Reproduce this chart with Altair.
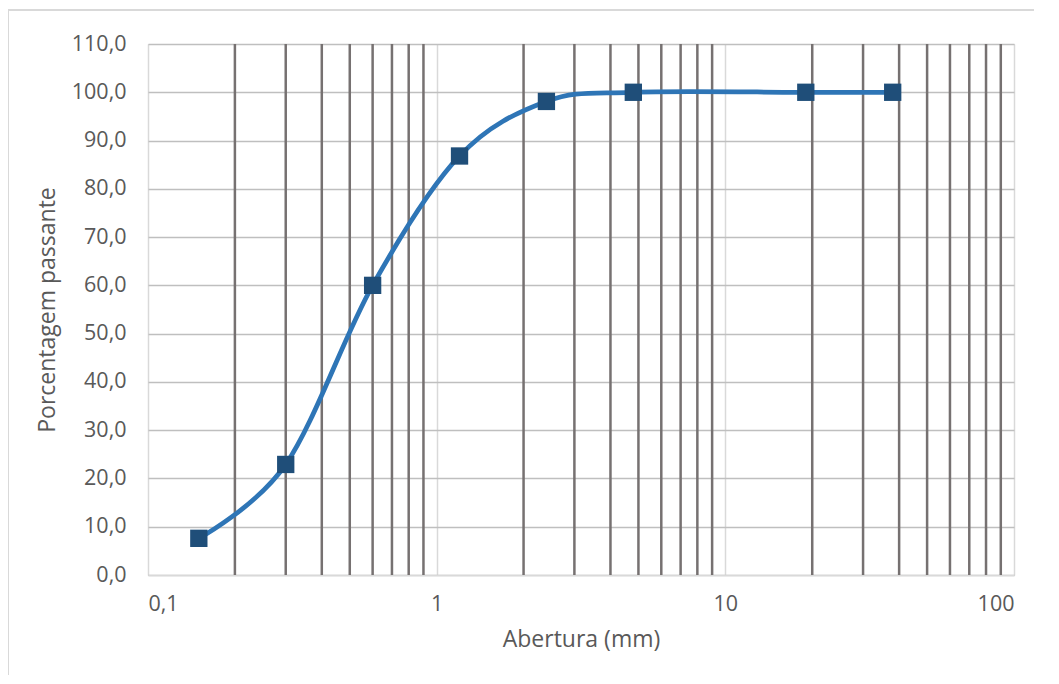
import altair as alt
import pandas as pd

abertura = [0.15, 0.3, 0.6, 1.2, 2.4, 4.8, 19.0, 38.0]
passante = [7.6, 22.9, 60.0, 86.8, 98.1, 100.0, 100.0, 100.0]
minor_x = [0.2, 0.3, 0.4, 0.5, 0.6, 0.7, 0.8, 0.9,
           2, 3, 4, 5, 6, 7, 8, 9,
           20, 30, 40, 50, 60, 70, 80, 90]
x_ticks = [0.1, 1, 10, 100]
y_ticks = list(range(0, 111, 10))

df = pd.DataFrame({"x": abertura, "y": passante})
minor = pd.DataFrame({"x": minor_x})

FONT = "Open Sans"
W, H = 866, 531
LS = 21.5
TS = 23

xscale = alt.Scale(type="log", domain=[0.1, 100])
yscale = alt.Scale(domain=[0, 110])

xaxis = alt.Axis(values=x_ticks, title="Abertura (mm)",
                 labelExpr="replace(format(datum.value, '~g'), '.', ',')",
                 grid=True, gridColor="#d9d9d9", gridWidth=1.5,
                 domain=True, domainColor="#d9d9d9", domainWidth=1.5,
                 ticks=False, labelPadding=18, labelFontSize=LS,
                 labelColor="#595959", labelFont=FONT,
                 titleFont=FONT, titleFontSize=TS, titleColor="#595959",
                 titleFontWeight="normal", titlePadding=14)
yaxis = alt.Axis(values=y_ticks, title="Porcentagem passante",
                 labelExpr="replace(format(datum.value, '.1f'), '.', ',')",
                 grid=True, gridColor="#bfbfbf", gridWidth=1.5,
                 domain=False, ticks=False, labelPadding=22,
                 labelFontSize=LS, labelColor="#595959", labelFont=FONT,
                 titleFont=FONT, titleFontSize=TS, titleColor="#595959",
                 titleFontWeight="normal", titlePadding=12)

minor_rules = alt.Chart(minor).mark_rule(color="#767171", strokeWidth=2.5).encode(
    x=alt.X("x:Q", scale=xscale, axis=xaxis),
    y=alt.value(0), y2=alt.value(H),
)

line = alt.Chart(df).mark_line(interpolate="cardinal", tension=0,
                               color="#2e75b6", strokeWidth=4.75).encode(
    x=alt.X("x:Q", scale=xscale),
    y=alt.Y("y:Q", scale=yscale, axis=yaxis),
)

points = alt.Chart(df).mark_point(shape="square", filled=True, size=300,
                                  color="#1f4e79", opacity=1).encode(
    x=alt.X("x:Q", scale=xscale),
    y=alt.Y("y:Q", scale=yscale),
)

frame_top = alt.Chart(df).mark_rule(color="#d9d9d9", strokeWidth=1.5).encode(
    x=alt.value(-140), x2=alt.value(W + 60), y=alt.value(-34))
frame_left = alt.Chart(df).mark_rule(color="#d9d9d9", strokeWidth=1.5).encode(
    x=alt.value(-140), y=alt.value(-34), y2=alt.value(H + 120))

chart = alt.layer(minor_rules, line, points, frame_top, frame_left).properties(
    width=W, height=H,
    autosize=alt.AutoSizeParams(type="none"),
    padding={"left": 140, "top": 36, "right": 20, "bottom": 100},
).configure_view(stroke=None).configure(background="white")

chart.save("out.html", embed_options={"renderer": "svg", "actions": False})
